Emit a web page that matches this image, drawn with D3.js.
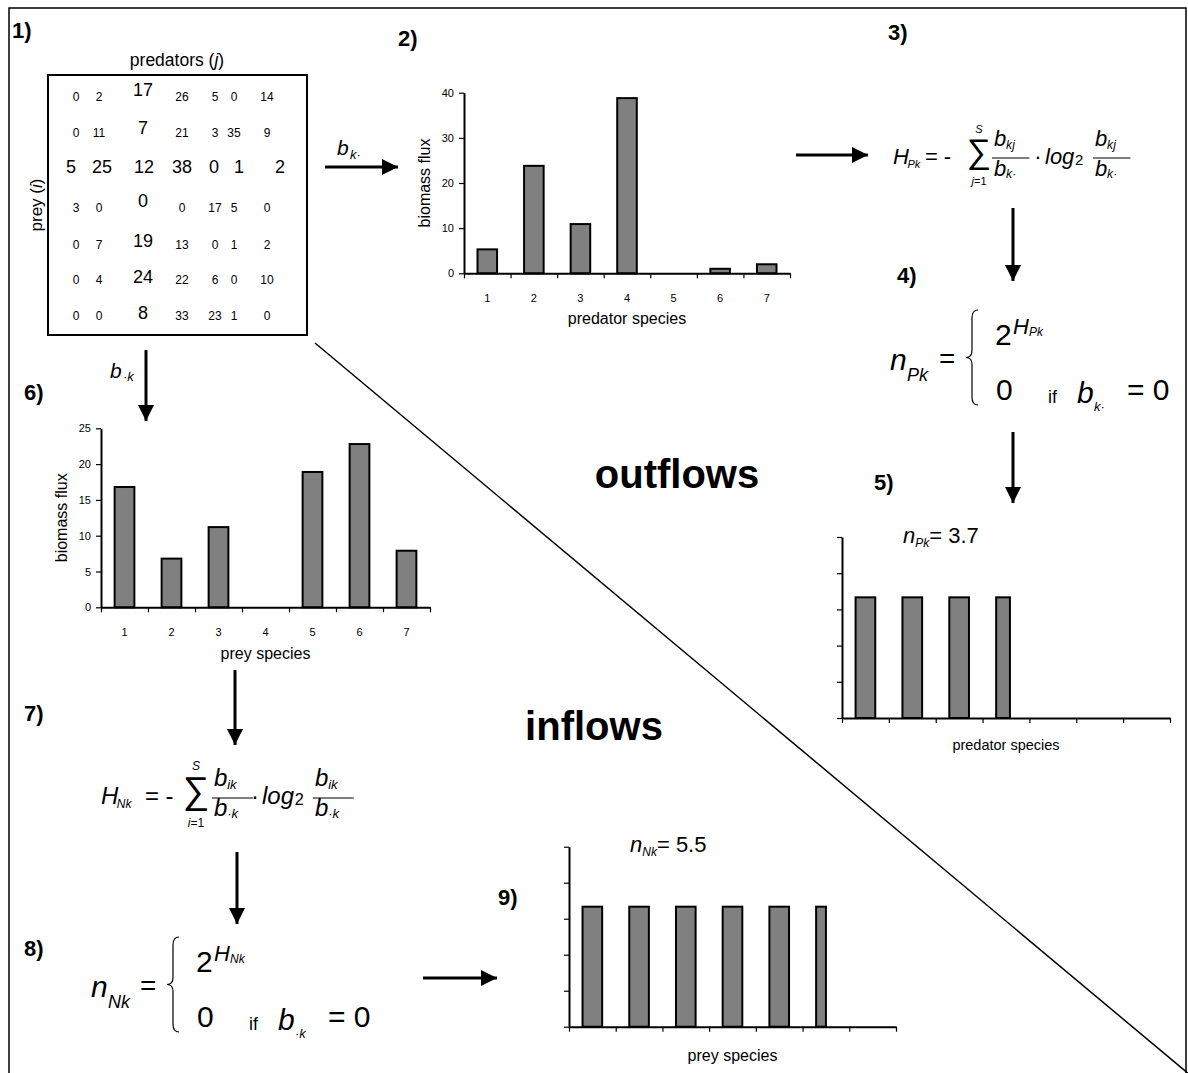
<!DOCTYPE html>
<html>
<head>
<meta charset="utf-8">
<title>Biomass flux diagram</title>
<script src="https://d3js.org/d3.v7.min.js"></script>
<style>
body { margin: 0; background: #fff; }
svg text { font-family: "Liberation Sans", Arial, sans-serif; fill: #000; }
</style>
</head>
<body>
<script>
// flux matrix b_ij, rows = prey (i), columns = predators (j)
var flowMatrix = [
    [0, 2, 17, 26, 5, 0, 14],
    [0, 11, 7, 21, 3, 35, 9],
    [5, 25, 12, 38, 0, 1, 2],
    [3, 0, 0, 0, 17, 5, 0],
    [0, 7, 19, 13, 0, 1, 2],
    [0, 4, 24, 22, 6, 0, 10],
    [0, 0, 8, 33, 23, 1, 0]
];
var focal = 2; // species k = 3 (row and column highlighted)

var species = ["1", "2", "3", "4", "5", "6", "7"];
var outflowFlux = [5.3, 23.8, 10.9, 38.8, 0, 1, 2];     // panel 2
var inflowFlux = [16.8, 6.8, 11.2, 0, 18.9, 22.8, 7.9];  // panel 6
var outflowEven = [1, 1, 1, 0.7, 0, 0, 0];               // panel 5, n_Pk = 3.7
var inflowEven = [1, 1, 1, 1, 1, 0.5, 0];                // panel 9, n_Nk = 5.5
var outTicks = [0, 10, 20, 30, 40];
var inTicks = [0, 5, 10, 15, 20, 25];
var evenTicks = [0, 0.3, 0.6, 0.9, 1.2, 1.5];
var panelLabels = ["1)", "2)", "3)", "4)", "5)", "6)", "7)", "8)", "9)"];

var width = 1188, height = 1073;
var svg = d3.select("body").append("svg")
    .attr("width", width)
    .attr("height", height);

svg.append("defs").append("marker")
    .attr("id", "head")
    .attr("viewBox", "0 0 10 10")
    .attr("refX", 10).attr("refY", 5)
    .attr("markerWidth", 5.5).attr("markerHeight", 5.5)
    .attr("markerUnits", "strokeWidth")
    .attr("orient", "auto")
  .append("path")
    .attr("d", "M0,0L10,5L0,10z")
    .attr("fill", "#000");

// outer frame + diagonal
svg.append("rect")
    .attr("x", 9).attr("y", 8).attr("width", 1177).attr("height", 1100)
    .attr("fill", "none").attr("stroke", "#000").attr("stroke-width", 1.5);
svg.append("line")
    .attr("x1", 315).attr("y1", 343).attr("x2", 1190).attr("y2", 1075)
    .attr("stroke", "#000").attr("stroke-width", 1.5);

function txt(x, y, s, size, o) {
    o = o || {};
    return svg.append("text")
        .attr("x", x).attr("y", y)
        .attr("font-size", size)
        .attr("font-style", o.italic ? "italic" : null)
        .attr("font-weight", o.bold ? "bold" : null)
        .attr("text-anchor", o.anchor || "start")
        .text(s);
}

function arrow(x1, y1, x2, y2) {
    svg.append("line")
        .attr("x1", x1).attr("y1", y1).attr("x2", x2).attr("y2", y2)
        .attr("stroke", "#000").attr("stroke-width", 3)
        .attr("marker-end", "url(#head)");
}

function brace(xl, xr, y1, y2) {
    var xm = (xl + xr) / 2, ym = (y1 + y2) / 2;
    svg.append("path")
        .attr("d", "M" + xr + "," + y1 + "Q" + xm + "," + y1 + " " + xm + "," + (y1 + 8) +
            "L" + xm + "," + (ym - 7) + "Q" + xm + "," + ym + " " + xl + "," + ym +
            "Q" + xm + "," + ym + " " + xm + "," + (ym + 7) +
            "L" + xm + "," + (y2 - 8) + "Q" + xm + "," + y2 + " " + xr + "," + y2)
        .attr("fill", "none").attr("stroke", "#000").attr("stroke-width", 1.2);
}

// panel labels
var labelPos = [[12, 38], [398, 46], [888, 40], [897, 283], [874, 490], [24, 400], [24, 721], [24, 956], [498, 905]];
panelLabels.forEach(function(l, i) {
    txt(labelPos[i][0], labelPos[i][1], l, 22, {bold: true});
});

txt(677, 488, "outflows", 40, {bold: true, anchor: "middle"});
txt(594, 740, "inflows", 40, {bold: true, anchor: "middle"});

// ---- panel 1: matrix ----
svg.append("rect")
    .attr("x", 48).attr("y", 75).attr("width", 259).attr("height", 260)
    .attr("fill", "none").attr("stroke", "#000").attr("stroke-width", 2);
var t1 = txt(177, 66, "predators (", 17.5, {anchor: "middle"});
t1.append("tspan").attr("font-style", "italic").text("j");
t1.append("tspan").text(")");
var t2 = svg.append("text")
    .attr("transform", "translate(42,205) rotate(-90)")
    .attr("font-size", 17).attr("text-anchor", "middle")
    .text("prey (");
t2.append("tspan").attr("font-style", "italic").text("i");
t2.append("tspan").text(")");

var colX = d3.scaleOrdinal().domain(d3.range(7)).range([76, 99, 143, 182, 215, 234, 267]);
var colXBig = d3.scaleOrdinal().domain(d3.range(7)).range([71, 102, 144, 182, 214, 239, 280]);
var rowY = d3.scaleOrdinal().domain(d3.range(7)).range([97, 133, 166, 208, 244.5, 280, 315.5]);
var rowYBig = d3.scaleOrdinal().domain(d3.range(7)).range([89, 127, 166, 200, 240, 276, 312]);

var cells = [];
flowMatrix.forEach(function(row, i) {
    row.forEach(function(v, j) { cells.push({i: i, j: j, v: v}); });
});
svg.append("g").selectAll("text")
    .data(cells)
    .join("text")
    .attr("text-anchor", "middle")
    .attr("font-size", function(d) { return (d.i === focal || d.j === focal) ? 18 : 12; })
    .attr("x", function(d) { return d.i === focal ? colXBig(d.j) : colX(d.j); })
    .attr("y", function(d) {
        if (d.i === focal || d.j === focal) return rowYBig(d.i) + 6.5;
        return rowY(d.i) + 4.3;
    })
    .text(function(d) { return d.v; });

// ---- bar chart helper ----
function barChart(o) {
    var g = svg.append("g");
    var x = d3.scaleBand().domain(species).range([o.left, o.right]);
    var xEdge = d3.scaleLinear().domain([0, species.length]).range([o.left, o.right]);
    var y = d3.scaleLinear().domain(o.domain).range([o.y0, o.yTop]);
    var bw = x.bandwidth() * 0.42;

    g.selectAll("rect")
        .data(o.values.map(function(v, i) { return {s: species[i], v: v}; }).filter(function(d) { return d.v > 0; }))
        .join("rect")
        .attr("x", function(d) { return x(d.s) + (x.bandwidth() - bw) / 2; })
        .attr("y", function(d) { return y(o.heights ? 1 : d.v); })
        .attr("width", function(d) { return o.heights ? bw * d.v : bw; })
        .attr("height", function(d) { return o.y0 - y(o.heights ? 1 : d.v); })
        .attr("fill", "#808080").attr("stroke", "#000").attr("stroke-width", 2);

    var ya = g.append("g")
        .attr("transform", "translate(" + o.left + ",0)")
        .call(d3.axisLeft(y).tickValues(o.ticks).tickSize(5).tickSizeOuter(0).tickPadding(5)
            .tickFormat(o.tickLabels ? d3.format("d") : ""));
    ya.select(".domain").attr("stroke-width", 2);
    ya.selectAll(".tick line").attr("stroke-width", 1.2);
    ya.selectAll(".tick text").attr("font-size", 11).attr("font-family", null);

    var xa = g.append("g")
        .attr("transform", "translate(0," + o.y0 + ")")
        .call(d3.axisBottom(xEdge).tickValues(d3.range(species.length + 1)).tickSize(5).tickSizeOuter(0).tickFormat(""));
    xa.select(".domain").attr("stroke-width", 2);
    xa.selectAll(".tick line").attr("stroke-width", 1.2);

    if (o.tickLabels) {
        g.append("g").selectAll("text")
            .data(species)
            .join("text")
            .attr("x", function(d) { return x(d) + x.bandwidth() / 2; })
            .attr("y", o.y0 + 29)
            .attr("text-anchor", "middle")
            .attr("font-size", 11)
            .text(function(d) { return d; });
        g.append("text")
            .attr("transform", "translate(" + (o.left - 34) + "," + ((o.y0 + o.yTop) / 2) + ") rotate(-90)")
            .attr("text-anchor", "middle")
            .attr("font-size", 16)
            .text("biomass flux");
    }
    g.append("text")
        .attr("x", (o.left + o.right) / 2)
        .attr("y", o.titleY)
        .attr("text-anchor", "middle")
        .attr("font-size", o.titleSize || 16)
        .text(o.title);
}

barChart({left: 464, right: 790, y0: 273.3, yTop: 92.7, domain: [0, 40], ticks: outTicks,
    values: outflowFlux, tickLabels: true, title: "predator species", titleY: 324});
barChart({left: 101, right: 430, y0: 607.3, yTop: 428.3, domain: [0, 25], ticks: inTicks,
    values: inflowFlux, tickLabels: true, title: "prey species", titleY: 659});
barChart({left: 842, right: 1170, y0: 718, yTop: 537, domain: [0, 1.5], ticks: evenTicks,
    values: outflowEven, heights: true, tickLabels: false, title: "predator species", titleY: 750, titleSize: 14.5});
barChart({left: 569, right: 896, y0: 1026.7, yTop: 846.7, domain: [0, 1.5], ticks: evenTicks,
    values: inflowEven, heights: true, tickLabels: false, title: "prey species", titleY: 1061});

// n labels above evenness charts
var np = txt(903, 543, "n", 22, {italic: true});
np.append("tspan").attr("font-size", 12).attr("dy", 4).text("Pk");
np.append("tspan").attr("font-style", "normal").attr("dy", -4).text("= 3.7");
var nn = txt(630, 852, "n", 22, {italic: true});
nn.append("tspan").attr("font-size", 12).attr("dy", 4).text("Nk");
nn.append("tspan").attr("font-style", "normal").attr("dy", -4).text("= 5.5");

// ---- arrows ----
arrow(325, 167, 398, 167);
arrow(796, 155, 868, 155);
arrow(1013, 208, 1013, 281);
arrow(1013, 432, 1013, 503);
arrow(146, 350, 146, 421);
arrow(235, 670, 235, 745);
arrow(237, 852, 237, 924);
arrow(423, 978, 497, 978);

// arrow labels
txt(337, 155, "b", 21, {italic: true});
txt(350, 159, "k·", 13, {italic: true});
txt(110, 378, "b", 21, {italic: true});
txt(123, 381, "·k", 13, {italic: true});

// ---- formulas ----
function fraction(x, yLine, w, sub, size, subSize) {
    txt(x + 2, yLine - 12, "b", size, {italic: true});
    txt(x + 2 + size * 0.55, yLine - 9, sub[0], subSize, {italic: true});
    svg.append("line").attr("x1", x).attr("x2", x + w).attr("y1", yLine).attr("y2", yLine)
        .attr("stroke", "#000").attr("stroke-width", 1.2);
    txt(x + 2, yLine + 18, "b", size, {italic: true});
    txt(x + 2 + size * 0.55, yLine + 20, sub[1], subSize, {italic: true});
}

function entropy(o) {
    var s = o.size, b = o.base;
    txt(o.hx, b, "H", s, {italic: true});
    txt(o.hx + s * 0.66, b + 4, o.hSub, s * 0.5, {italic: true});
    txt(o.eqx, b, "=", s);
    txt(o.eqx + s * 0.85, b, "-", s);
    txt(o.sumx, b - 1, "∑", s * 1.55, {anchor: "middle"});
    txt(o.sumx, b - s * 1.4, "S", s * 0.5, {italic: true, anchor: "middle"});
    var lim = txt(o.sumx, b + s * 0.97, "", s * 0.5, {anchor: "middle"});
    lim.append("tspan").attr("font-style", "italic").text(o.idx);
    lim.append("tspan").text("=1");
    fraction(o.f1, b - 6, s * 1.7, o.subs, s, s * 0.55);
    txt(o.dotx, b, "·", s, {anchor: "middle"});
    txt(o.logx, b, "log", s, {italic: true});
    txt(o.logx + s * 1.36, b + 1, "2", s * 0.68);
    fraction(o.f2, b - 6, s * 1.7, o.subs, s, s * 0.55);
}

entropy({hx: 893, base: 164, size: 22, hSub: "Pk", eqx: 925, sumx: 979, idx: "j",
    f1: 992, f2: 1093, dotx: 1038, logx: 1045, subs: ["kj", "k·"]});
entropy({hx: 101, base: 804, size: 24, hSub: "Nk", eqx: 145, sumx: 196, idx: "i",
    f1: 212, f2: 313, dotx: 255, logx: 262, subs: ["ik", "·k"]});

function richness(o) {
    var x = o.x, b = o.base;
    txt(x, b, "n", 30, {italic: true});
    txt(x + 17, b + 11, o.sub, 18, {italic: true});
    txt(x + 49, b - 2, "=", 28);
    brace(x + 76, x + 88, b - 60, b + 35);
    txt(x + 105, b - 25, "2", 30);
    txt(x + 123, b - 36, "H", 22, {italic: true});
    txt(x + 139, b - 34, o.sub, 12, {italic: true});
    txt(x + 106, b + 30, "0", 30);
    txt(x + 158, b + 33, "if", 18);
    txt(x + 187, b + 33, "b", 30, {italic: true});
    txt(x + 204, b + 41, o.bsub, 13, {italic: true});
    txt(x + 237, b + 30, "= 0", 30);
}
richness({x: 890, base: 370, sub: "Pk", bsub: "k·"});
richness({x: 91, base: 997, sub: "Nk", bsub: "·k"});
</script>
</body>
</html>
